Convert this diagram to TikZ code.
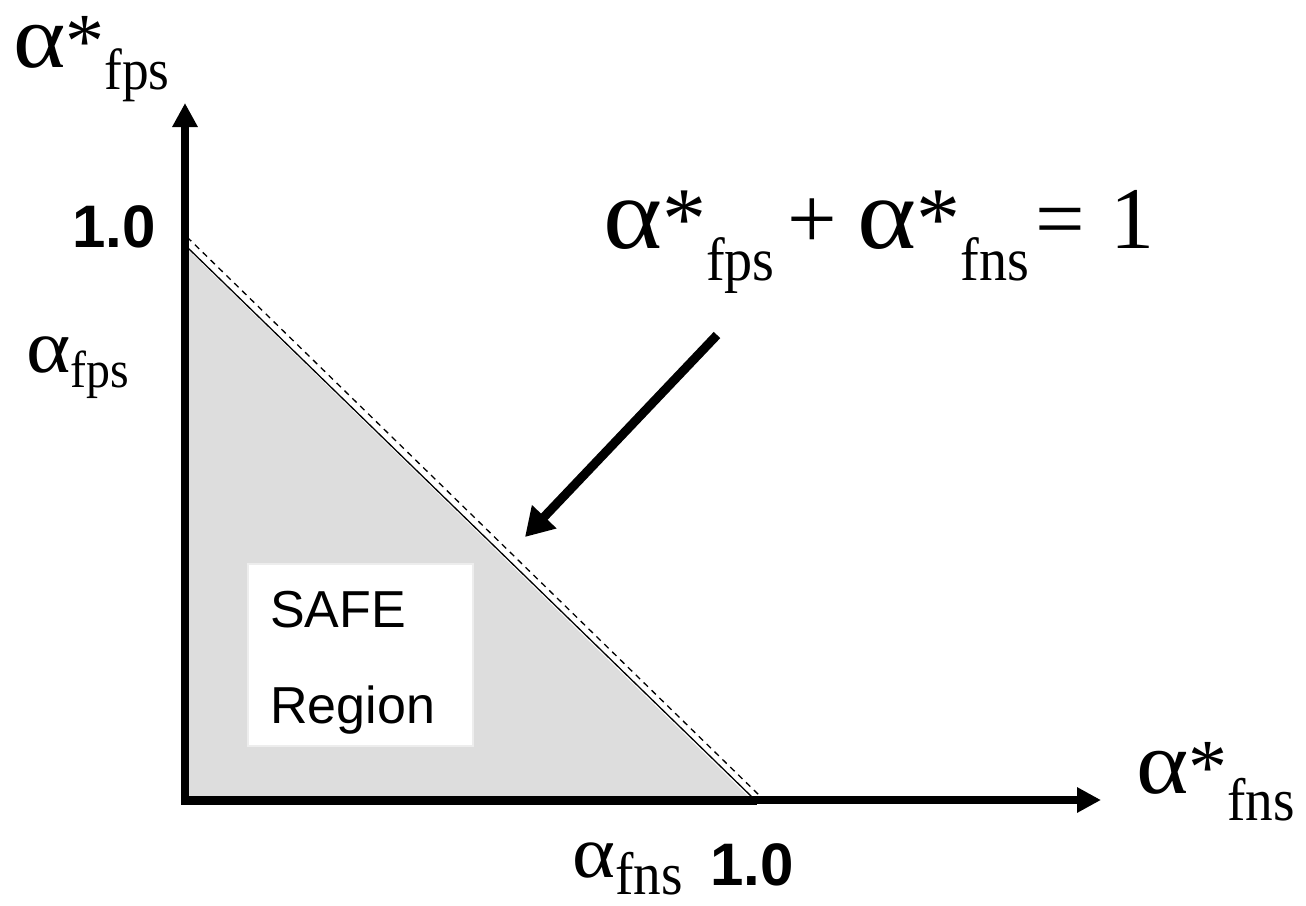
\documentclass[tikz,border=0pt]{standalone}
\usepackage{fontspec}
\setmainfont{Liberation Serif}
\newfontfamily\arial{Liberation Sans}
\usetikzlibrary{arrows.meta}
\newcommand{\fsz}[1]{\fontsize{#1}{#1}\selectfont}
\newcommand{\ga}{\scalebox{1.28}[1.15]{α}}
% main size, sub size, drop, main text, sub text
\newcommand{\lbl}[5]{{\fsz{#1}#4}\raisebox{-#3pt}{\fsz{#2}\scalebox{0.92}[1]{#5}}}
\tikzset{
  lab/.style={inner sep=0pt, anchor=base west},
  axis/.style={line width=7.5pt, -{Triangle[width=24pt,length=24pt]}},
  callout/.style={line width=9pt, -{Triangle[width=32pt,length=28pt]}},
  edge/.style={line width=1.3pt},
  dashedge/.style={line width=1.3pt, dash pattern=on 6pt off 5pt},
  safebox/.style={fill=white, draw=black!7, line width=2pt},
  txt/.style={inner sep=0pt, anchor=base west, font=\arial\fsz{52}}
}
\definecolor{regiongray}{RGB}{221,221,221}
\begin{document}
\begin{tikzpicture}[x=1pt,y=-1pt]
\useasboundingbox (0,0) rectangle (1306,905);
% region
\fill[regiongray] (185,247) -- (752,800) -- (185,800) -- cycle;
\coordinate (s1) at (187,247);
\coordinate (s2) at (753,798);
\coordinate (d1) at (187,237);
\coordinate (d2) at (761,797);
\draw[edge] (s1) -- (s2);
\draw[dashedge] (d1) -- (d2);
% safe box
\node[safebox, minimum width=225pt, minimum height=182pt, anchor=north west, inner sep=0pt] (box) at (247,563) {};
\node[txt] (safe) at (270,627) {SAFE};
\node[txt] (region) at (270,723) {Region};
% axes
\coordinate (origin) at (185,800);
\coordinate (ytip) at (185,103);
\coordinate (xtip) at (1101,800);
\draw[axis] (origin) ++(0,3.75) -- (ytip);
\draw[axis] (origin) ++(-3.75,0) -- (xtip);
\draw[line width=9pt] (origin) ++(-3.75,0) -- (757,800);
% callout arrow
\coordinate (cstart) at (717,335);
\coordinate (ctip) at (525,537);
\draw[callout] (cstart) -- (ctip);
% labels
\node[lab] (ylab) at (13,67) {\lbl{78}{58}{22}{\ga*}{fps}};
\node[lab] (xlab) at (1136,793) {\lbl{78}{60}{27}{\ga*}{fns}};
\node[lab] (eq) at (603,248) {\lbl{88}{61}{32}{\ga*}{fps}{\fsz{88}\kern13pt+\kern20pt}\lbl{88}{61}{32}{\ga*}{fns}{\fsz{88}\kern6pt=\kern26pt1}};
\node[lab] (aps) at (26,372) {\lbl{66}{52}{15}{\ga}{fps}};
\node[lab] (ans) at (572,877) {\lbl{64}{60}{17}{\ga}{fns}};
\node[lab, font=\arial\bfseries\fsz{60}] (yone) at (72,247) {1.0};
\node[lab, font=\arial\bfseries\fsz{60}] (xone) at (710,885) {1.0};
\end{tikzpicture}
\end{document}
